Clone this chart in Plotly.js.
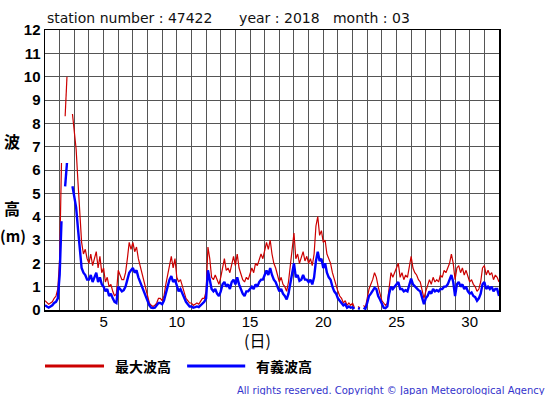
<!DOCTYPE html>
<html>
<head>
<meta charset="utf-8">
<script src="https://cdn.plot.ly/plotly-3.0.1.min.js"></script>
<style>html,body{margin:0;padding:0;background:#fff;}#chart{width:555px;height:395px;}</style>
</head>
<body>
<div id="chart"></div>
<script>
// 3-hourly values, day 1 00h .. day 32 00h
const startDay = 1;
const stepDays = 0.125;

const maxWaveHeight = [
  0.4,0.3,0.25,0.3,0.35,0.5,0.6,0.9,
  2.2,6.3,null,8.3,10.0,null,null,8.4,
  7.6,6.9,5.5,3.9,2.9,2.4,2.6,2.2,
  2.0,2.4,1.9,2.2,2.5,1.8,2.3,
  1.6,1.8,1.2,1.4,1.0,1.1,0.8,0.6,
  0.7,1.7,1.5,1.3,1.3,1.6,2.2,2.9,
  2.6,2.9,2.5,2.7,2.2,1.9,1.6,1.3,
  0.9,0.6,0.3,0.2,0.15,0.2,0.3,0.5,
  0.5,0.4,0.6,1.1,1.5,2.0,2.3,1.8,
  2.2,1.4,1.2,1.3,1.0,0.8,0.5,0.4,
  0.3,0.3,0.2,0.25,0.3,0.25,0.4,0.5,
  0.5,0.8,2.7,2.2,1.4,1.3,1.5,1.3,
  1.1,1.4,1.9,2.2,1.7,1.8,1.6,2.0,
  2.3,1.9,2.4,1.8,1.5,1.3,1.2,1.4,
  1.3,1.6,1.8,1.6,2.0,1.9,2.2,2.4,
  2.2,2.6,2.9,2.6,3.0,2.4,2.0,1.8,
  1.5,1.2,1.4,1.1,1.0,0.8,1.2,2.0,
  2.6,3.3,2.2,2.4,2.0,2.3,2.5,2.1,
  2.3,2.0,2.2,1.9,2.4,3.6,4.0,3.2,
  3.4,2.9,3.0,2.4,2.2,2.0,1.6,1.3,
  1.0,0.8,0.6,0.5,0.3,0.4,0.2,0.3,
  0.2,0.3,0.1,null,0.15,0.1,null,0.2,
  0.1,0.5,0.9,1.1,1.3,1.6,1.4,1.0,
  0.7,0.4,0.3,0.2,0.3,1.1,1.6,1.4,
  1.6,1.8,2.0,1.4,1.6,1.3,1.5,1.4,
  1.9,2.3,1.8,1.6,1.5,1.3,1.2,0.8,
  0.5,0.8,1.1,1.3,1.1,1.4,1.2,1.3,
  1.2,1.5,1.4,1.7,1.6,1.8,2.0,2.4,
  2.0,1.3,1.8,1.9,1.6,1.8,1.5,1.7,
  1.4,1.2,1.3,1.1,1.0,0.8,0.9,1.2,
  1.8,1.9,1.5,1.7,1.5,1.6,1.3,1.5,
  1.4,1.2
];

const significantWaveHeight = [
  0.2,0.15,0.1,0.15,0.2,0.3,0.35,0.5,
  1.5,3.8,null,5.3,6.3,null,null,5.3,
  4.8,4.4,3.5,2.7,1.8,1.6,1.5,1.3,
  1.3,1.5,1.2,1.4,1.6,1.2,1.4,
  1.1,1.0,0.8,0.9,0.6,0.7,0.5,0.35,
  0.3,1.0,0.9,0.8,0.85,1.0,1.3,1.6,
  1.7,1.8,1.6,1.7,1.4,1.2,1.0,0.8,
  0.6,0.4,0.2,0.1,0.08,0.1,0.2,0.3,
  0.3,0.25,0.4,0.7,1.0,1.3,1.45,1.2,
  1.3,1.0,0.8,0.9,0.7,0.5,0.35,0.25,
  0.15,0.15,0.1,0.12,0.15,0.12,0.2,0.3,
  0.35,0.5,1.7,1.3,0.9,0.8,0.9,0.7,
  0.6,0.8,1.1,1.2,1.0,1.1,0.9,1.2,
  1.3,1.1,1.4,1.1,0.9,0.7,0.6,0.8,
  0.8,0.9,1.0,0.9,1.1,1.0,1.2,1.3,
  1.3,1.5,1.7,1.5,1.8,1.5,1.3,1.2,
  1.0,0.8,0.9,0.7,0.6,0.45,0.7,1.2,
  1.6,2.0,1.4,1.5,1.25,1.3,1.5,1.3,
  1.3,1.2,1.3,1.1,1.4,2.1,2.5,2.1,
  2.2,1.8,2.0,1.6,1.4,1.3,1.0,0.8,
  0.7,0.5,0.4,0.3,0.2,0.25,0.1,0.15,
  0.1,0.12,0.05,null,0.08,0.05,null,0.1,
  0.05,0.3,0.6,0.7,0.8,0.95,0.9,0.6,
  0.45,0.25,0.1,0.08,0.15,0.7,1.0,0.9,
  1.0,1.1,1.2,0.9,0.9,0.8,0.85,0.8,
  1.1,1.35,1.1,1.0,0.95,0.85,0.8,0.5,
  0.25,0.5,0.6,0.8,0.7,0.9,0.8,0.85,
  0.8,0.9,0.9,1.0,1.0,1.1,1.3,1.5,
  1.2,0.6,1.1,1.2,1.0,1.1,0.9,1.0,
  0.8,0.7,0.75,0.6,0.55,0.4,0.5,0.7,
  1.1,1.2,0.9,1.0,0.9,1.0,0.8,0.9,
  0.9,0.6
];

const xTickVals = [5, 10, 15, 20, 25, 30];
const xTickText = ['5', '10', '15', '20', '25', '30'];
const yTickVals = [0,1,2,3,4,5,6,7,8,9,10,11,12];
const legendNames = ['最大波高', '有義波高'];
const titleText = 'station number : 47422      year : 2018   month : 03';

const days = maxWaveHeight.map((_, i) => startDay + i * stepDays);

const FONT = 'Liberation Sans, Arial, sans-serif';
const WIDE = 'DejaVu Sans, sans-serif';
const CJK = 'Noto Sans CJK JP, sans-serif';
const GRID = '#555555';

const traces = [
  {x: days, y: maxWaveHeight, type: 'scatter', mode: 'lines', name: legendNames[0],
   line: {color: '#cc0000', width: 1.2}, connectgaps: false, showlegend: false},
  {x: days, y: significantWaveHeight, type: 'scatter', mode: 'lines', name: legendNames[1],
   line: {color: '#0000ff', width: 2.4}, connectgaps: false, showlegend: false}
];

const layout = {
  width: 555, height: 395,
  margin: {l: 45, r: 56, t: 30, b: 85},
  paper_bgcolor: '#ffffff', plot_bgcolor: '#ffffff',
  title: {text: titleText.replace(/ /g, '\u00a0'), x: 47/555, xanchor: 'left', xref: 'container',
          y: 1 - 18/395, yanchor: 'middle', yref: 'container',
          font: {family: WIDE, size: 14, color: '#111'}},
  xaxis: {
    range: [1, 32], tickmode: 'array', tickvals: xTickVals, ticktext: xTickText,
    showgrid: true, gridcolor: GRID, gridwidth: 1,
    minor: {dtick: 1, tick0: 1, showgrid: true, gridcolor: GRID, gridwidth: 1},
    showline: true, mirror: true, linecolor: '#000', linewidth: 1.5,
    ticks: '', zeroline: false, fixedrange: true, ticklabelstandoff: -3,
    tickfont: {family: FONT, size: 15, color: '#000'}
  },
  yaxis: {
    range: [0, 12], tickmode: 'array', tickvals: yTickVals,
    showgrid: true, gridcolor: GRID, gridwidth: 1,
    showline: true, mirror: true, linecolor: '#000', linewidth: 1.5,
    ticks: '', zeroline: false, fixedrange: true,
    tickfont: {family: FONT, size: 15, color: '#000', weight: 'bold'}
  },
  shapes: [
    {type: 'line', xref: 'paper', yref: 'paper', x0: 0.0, x1: 0.130, y0: -0.2, y1: -0.2,
     line: {color: '#cc0000', width: 3}},
    {type: 'line', xref: 'paper', yref: 'paper', x0: 0.313, x1: 0.441, y0: -0.2, y1: -0.2,
     line: {color: '#0000ff', width: 3}}
  ],
  annotations: [
    {text: legendNames[0], xref: 'paper', yref: 'paper', x: 0.149, y: -0.2, xanchor: 'left', yanchor: 'middle',
     showarrow: false, font: {family: CJK, size: 14, color: '#000', weight: 'bold'}},
    {text: legendNames[1], xref: 'paper', yref: 'paper', x: 0.461, y: -0.2, xanchor: 'left', yanchor: 'middle',
     showarrow: false, font: {family: CJK, size: 14, color: '#000', weight: 'bold'}},
    {text: '(日)', xref: 'paper', yref: 'paper', x: 0.469, y: -0.107, xanchor: 'center', yanchor: 'middle',
     showarrow: false, font: {family: CJK, size: 16, color: '#000'}},
    {text: '波', xref: 'paper', yref: 'paper', x: -0.0716, y: 0.602, xanchor: 'center', yanchor: 'middle',
     showarrow: false, font: {family: CJK, size: 16, color: '#000', weight: 'bold'}},
    {text: '高', xref: 'paper', yref: 'paper', x: -0.0716, y: 0.366, xanchor: 'center', yanchor: 'middle',
     showarrow: false, font: {family: CJK, size: 16, color: '#000', weight: 'bold'}},
    {text: '(m)', xref: 'paper', yref: 'paper', x: -0.0695, y: 0.266, xanchor: 'center', yanchor: 'middle',
     showarrow: false, font: {family: CJK, size: 15, color: '#000', weight: 'bold'}},
    {text: 'All rights reserved. Copyright © Japan Meteorological Agency', xref: 'paper', yref: 'paper',
     x: 1.105, y: -0.286, xanchor: 'right', yanchor: 'middle', showarrow: false,
     font: {family: WIDE, size: 10, color: '#3333cc'}}
  ]
};

Plotly.newPlot('chart', traces, layout, {staticPlot: true, displayModeBar: false});
</script>
</body>
</html>
